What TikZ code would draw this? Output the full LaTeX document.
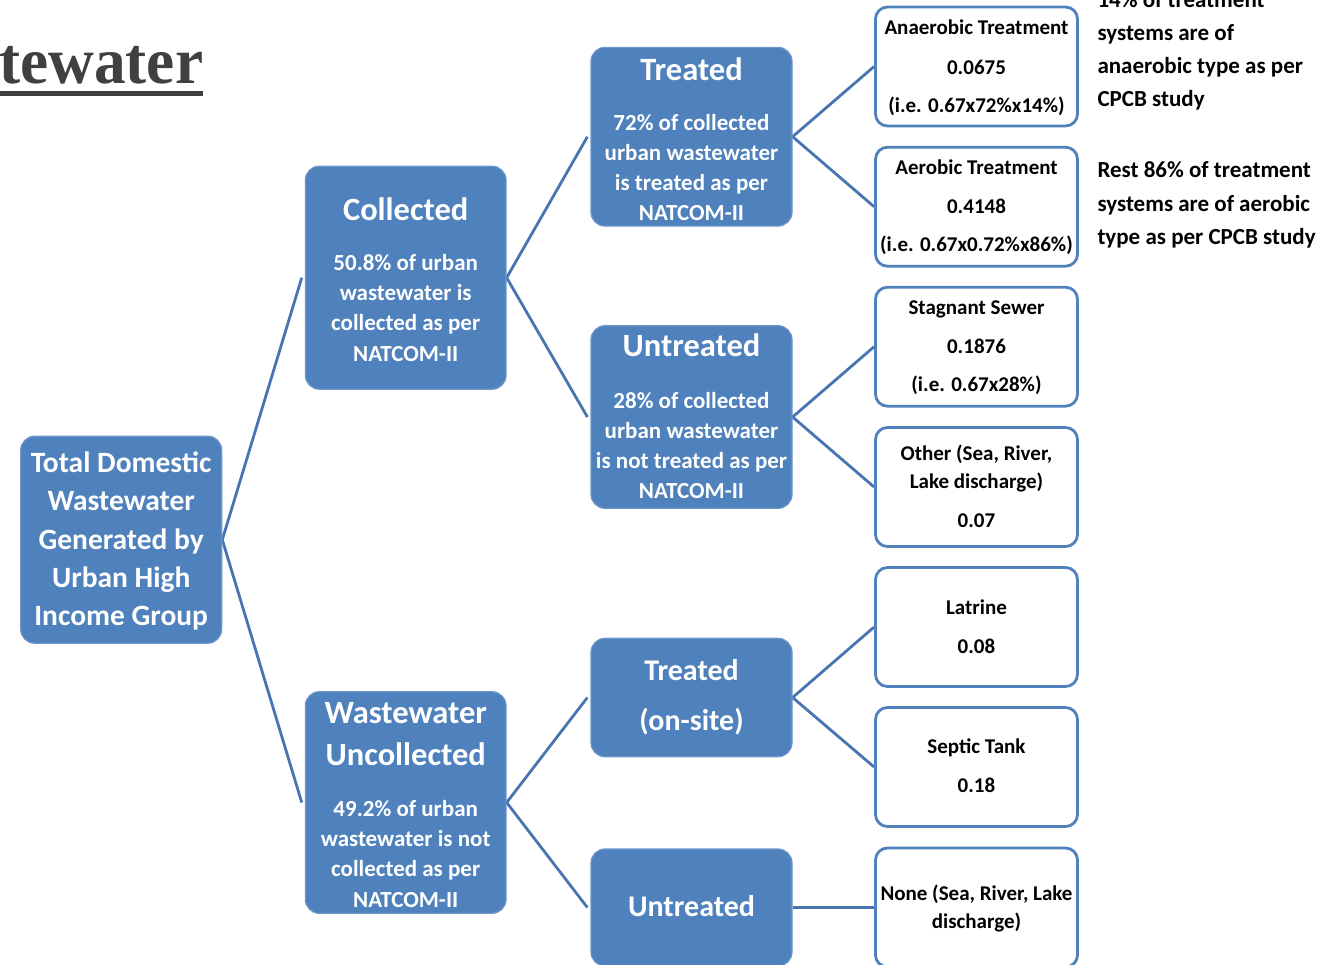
\documentclass[tikz,border=0pt]{standalone}
\usepackage{fontspec}
\setmainfont{Carlito}
\newfontfamily\titlefont{Liberation Serif}
\usetikzlibrary{backgrounds}
\definecolor{boxblue}{HTML}{4F81BD}
\definecolor{rimblue}{HTML}{6C95C9}
\definecolor{lineblue}{HTML}{4875B0}
\definecolor{titlegray}{HTML}{404040}
\newcommand\txtline[5]{\node[#4] (#1) at (#2,#3) {#5};}
\tikzset{
  bluebox/.style={rectangle, rounded corners=14pt, fill=boxblue, draw=rimblue, line width=1.2pt, inner sep=0pt},
  whitebox/.style={rectangle, rounded corners=12pt, fill=white, draw=boxblue, line width=2.8pt, inner sep=0pt, minimum width=202pt, minimum height=119pt},
  link/.style={draw=lineblue, line width=2.8pt},
  hdr/.style={text=white, font=\bfseries\fontsize{32.5}{39}\selectfont, inner sep=0pt, anchor=base},
  bod/.style={text=white, font=\bfseries\fontsize{23}{28}\selectfont, inner sep=0pt, anchor=base},
  tot/.style={text=white, font=\bfseries\fontsize{29.5}{35}\selectfont, inner sep=0pt, anchor=base},
  big/.style={text=white, font=\bfseries\fontsize{30}{36}\selectfont, inner sep=0pt, anchor=base},
  wt/.style={text=black, font=\bfseries\fontsize{21}{25}\selectfont, inner sep=0pt, anchor=base},
  nt/.style={text=black, font=\bfseries\fontsize{23}{28}\selectfont, inner sep=0pt, anchor=base west},
}
\begin{document}
\begin{tikzpicture}[x=1pt,y=-1pt]
\useasboundingbox (0,0) rectangle (1333,964);
\clip (0,0) rectangle (1333,964);

% title
\node[anchor=base west, font=\titlefont\bfseries\fontsize{66}{70}\selectfont, text=titlegray, xscale=0.96, inner sep=0pt] (title) at (-1,83) {tewater};
\fill[titlegray] (0,90.5) rectangle (203,95.5);

% blue boxes
\node[bluebox, minimum width=201pt, minimum height=207pt] (total) at (121.2,539.7) {};
\node[bluebox, minimum width=200.7pt, minimum height=223pt] (coll) at (405.7,277.7) {};
\node[bluebox, minimum width=200.7pt, minimum height=221.6pt] (uncoll) at (405.7,802.5) {};
\node[bluebox, minimum width=201pt, minimum height=178.7pt] (treat) at (691.5,136.7) {};
\node[bluebox, minimum width=201pt, minimum height=182.6pt] (untreat) at (691.5,417) {};
\node[bluebox, minimum width=201pt, minimum height=118.4pt] (onsite) at (691.5,697.5) {};
\node[bluebox, minimum width=201pt, minimum height=117pt] (untreatb) at (691.5,907.5) {};

% white boxes
\node[whitebox] (w1) at (976.5,66.5) {};
\node[whitebox] (w2) at (976.5,206.7) {};
\node[whitebox] (w3) at (976.5,346.7) {};
\node[whitebox] (w4) at (976.5,487) {};
\node[whitebox] (w5) at (976.5,627) {};
\node[whitebox] (w6) at (976.5,767) {};
\node[whitebox] (w7) at (976.5,907.5) {};

% connectors
\begin{scope}[on background layer]
\draw[link] ([xshift=-3pt]coll.west) -- (total.east) -- ([xshift=-3pt]uncoll.west);
\draw[link] ([xshift=-3pt]treat.west) -- (coll.east) -- ([xshift=-3pt]untreat.west);
\draw[link] ([xshift=-3pt]onsite.west) -- (uncoll.east) -- ([xshift=-3pt]untreatb.west);
\draw[link] (w1.west) -- (treat.east) -- (w2.west);
\draw[link] (w3.west) -- (untreat.east) -- (w4.west);
\draw[link] (w5.west) -- (onsite.east) -- (w6.west);
\draw[link] (untreatb.east) -- (w7.west);
\end{scope}

% total text
\txtline{ta}{121.2}{472}{tot}{Total Domestic}
\txtline{tb}{121.2}{510.5}{tot}{Wastewater}
\txtline{tc}{121.2}{549}{tot}{Generated by}
\txtline{td}{121.2}{587.5}{tot}{Urban High}
\txtline{te}{121.2}{625.5}{tot}{Income Group}

% collected
\txtline{ca}{405.7}{220}{hdr}{Collected}
\txtline{cb}{405.7}{270}{bod}{50.8\% of urban}
\txtline{cc}{405.7}{300.3}{bod}{wastewater is}
\txtline{cd}{405.7}{330.6}{bod}{collected as per}
\txtline{ce}{405.7}{361}{bod}{NATCOM-II}

% uncollected
\txtline{ua}{405.7}{723.5}{hdr}{Wastewater}
\txtline{ub}{405.7}{765}{hdr}{Uncollected}
\txtline{uc}{405.7}{816}{bod}{49.2\% of urban}
\txtline{ud}{405.7}{846.3}{bod}{wastewater is not}
\txtline{ue}{405.7}{876.6}{bod}{collected as per}
\txtline{uf}{405.7}{907}{bod}{NATCOM-II}

% treated
\txtline{ra}{691.5}{80.7}{hdr}{Treated}
\txtline{rb}{691.5}{130.7}{bod}{72\% of collected}
\txtline{rc}{691.5}{160.5}{bod}{urban wastewater}
\txtline{rd}{691.5}{190.3}{bod}{is treated as per}
\txtline{re}{691.5}{220}{bod}{NATCOM-II}

% untreated
\txtline{na}{691.5}{356.7}{hdr}{Untreated}
\txtline{nb}{691.5}{408.3}{bod}{28\% of collected}
\txtline{nc}{691.5}{438.3}{bod}{urban wastewater}
\txtline{nd}{691.5}{468.3}{bod}{is not treated as per}
\txtline{ne}{691.5}{498.3}{bod}{NATCOM-II}

% on-site
\txtline{oa}{691.5}{680}{big}{Treated}
\txtline{ob}{691.5}{730.7}{big}{(on-site)}
\txtline{xa}{691.5}{916}{big}{Untreated}

% white box texts
\txtline{w1a}{976.5}{34.3}{wt}{Anaerobic Treatment}
\txtline{w1b}{976.5}{74}{wt}{0.0675}
\txtline{w1c}{976.5}{112.7}{wt}{(i.e. 0.67x72\%x14\%)}
\txtline{w2a}{976.5}{174.3}{wt}{Aerobic Treatment}
\txtline{w2b}{976.5}{213.3}{wt}{0.4148}
\txtline{w2c}{976.5}{251.7}{wt}{(i.e. 0.67x0.72\%x86\%)}
\txtline{w3a}{976.5}{314.3}{wt}{Stagnant Sewer}
\txtline{w3b}{976.5}{353.3}{wt}{0.1876}
\txtline{w3c}{976.5}{391.7}{wt}{(i.e. 0.67x28\%)}
\txtline{w4a}{976.5}{460.7}{wt}{Other (Sea, River,}
\txtline{w4b}{976.5}{488.3}{wt}{Lake discharge)}
\txtline{w4c}{976.5}{527.3}{wt}{0.07}
\txtline{w5a}{976.5}{614}{wt}{Latrine}
\txtline{w5b}{976.5}{653.3}{wt}{0.08}
\txtline{w6a}{976.5}{753.3}{wt}{Septic Tank}
\txtline{w6b}{976.5}{792.7}{wt}{0.18}
\txtline{w7a}{976.5}{900}{wt}{None (Sea, River, Lake}
\txtline{w7b}{976.5}{928.3}{wt}{discharge)}

% notes
\txtline{n1a}{1097.3}{7.5}{nt}{14\% of treatment}
\txtline{n1b}{1097.3}{40.5}{nt}{systems are of}
\txtline{n1c}{1097.3}{73.3}{nt}{anaerobic type as per}
\txtline{n1d}{1097.3}{106}{nt}{CPCB study}
\txtline{n2a}{1097.3}{177.7}{nt}{Rest 86\% of treatment}
\txtline{n2b}{1097.3}{211}{nt}{systems are of aerobic}
\txtline{n2c}{1097.3}{244.3}{nt}{type as per CPCB study}
\end{tikzpicture}
\end{document}
